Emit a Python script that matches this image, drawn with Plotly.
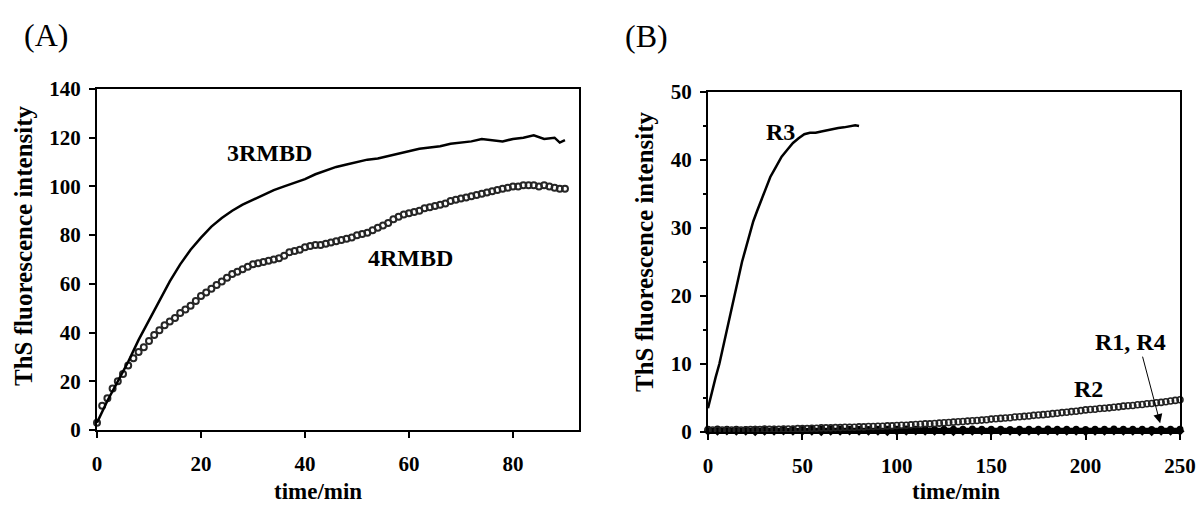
import plotly.graph_objects as go

# ---------------- Panel A data ----------------
t_3r = [0, 2, 4, 6, 8, 10, 12, 14, 16, 18, 20, 22, 24, 26, 28, 30, 32, 34, 36, 38,
        40, 42, 44, 46, 48, 50, 52, 54, 56, 58, 60, 62, 64, 66, 68, 70, 72, 74, 76, 78,
        80, 82, 84, 86, 88, 89, 90]
v_3r = [3, 12, 20, 28, 37, 45, 53, 61, 68, 74, 79, 83.5, 87, 90, 92.5, 94.5, 96.5, 98.5, 100, 101.5,
        103, 105, 106.5, 108, 109, 110, 111, 111.5, 112.5, 113.5, 114.5, 115.5, 116, 116.5, 117.5, 118, 118.5, 119.5, 119, 118.5,
        119.5, 120, 121, 119.5, 120, 118, 119]

t_4r = list(range(0, 91))
v_4r = [3, 10, 13, 17, 20, 23, 26.5, 29.5, 32, 34,
        36.5, 39, 41, 43, 44.5, 46, 48, 49.5, 51, 53,
        55, 56.5, 58, 59.5, 61, 62.5, 64, 65, 66, 67,
        68, 68.5, 69, 69.5, 70, 70.5, 71.5, 73, 73.5, 74,
        75, 75.5, 76, 76, 76.5, 77, 77.5, 78, 78.5, 79,
        80, 80.5, 81, 82, 83, 84, 85, 86.5, 87.5, 88.5,
        89, 89.5, 90, 91, 91.5, 92, 92.5, 93, 94, 94.5,
        95, 95.5, 96, 96.5, 97, 97.5, 98, 98.5, 99, 99.5,
        100, 100, 100.5, 100.5, 100.5, 100, 100.5, 100, 99.5, 99, 99]

# ---------------- Panel B data ----------------
t_r3 = [0, 2, 4, 6, 8, 10, 12, 14, 16, 18, 20, 22, 24, 26, 28, 30, 33, 36, 39, 42,
        45, 48, 51, 54, 57, 60, 63, 66, 69, 72, 75, 78, 80]
v_r3 = [3.5, 6, 8, 10, 12.5, 15, 17.5, 20, 22.5, 25, 27, 29, 31, 32.5, 34, 35.5, 37.5, 39, 40.5, 41.5,
        42.5, 43.2, 43.8, 44, 44, 44.2, 44.4, 44.5, 44.7, 44.8, 45, 45.1, 45]

t_r2 = [i * 2.5 for i in range(101)]
v_r2 = [0.3, 0.3, 0.3, 0.3, 0.3, 0.3, 0.3, 0.3, 0.3, 0.35, 0.35, 0.35, 0.4, 0.4, 0.4, 0.4, 0.45, 0.45, 0.45, 0.5, 0.5,
        0.5, 0.55, 0.55, 0.6, 0.6, 0.6, 0.65, 0.65, 0.7, 0.7, 0.7, 0.75, 0.75, 0.8, 0.8, 0.85, 0.85, 0.9, 0.9, 0.95,
        1.0, 1.0, 1.05, 1.1, 1.15, 1.2, 1.2, 1.25, 1.3, 1.35, 1.4, 1.45, 1.5, 1.55, 1.6, 1.65, 1.7, 1.75, 1.8, 1.9,
        1.95, 2.0, 2.05, 2.1, 2.2, 2.25, 2.3, 2.35, 2.45, 2.5, 2.55, 2.6, 2.7, 2.75, 2.85, 2.9, 3.0, 3.05, 3.15, 3.25,
        3.3, 3.35, 3.45, 3.5, 3.55, 3.65, 3.7, 3.8, 3.85, 3.9, 4.0, 4.05, 4.15, 4.2, 4.3, 4.35, 4.45, 4.55, 4.65, 4.75]

t_r14 = [i * 5 for i in range(51)]
v_r1 = [0.4, 0.45, 0.4, 0.4, 0.35, 0.4, 0.45, 0.4, 0.4, 0.4, 0.35, 0.4, 0.4, 0.45, 0.4, 0.4, 0.4, 0.35,
        0.4, 0.4, 0.4, 0.45, 0.4, 0.4, 0.35, 0.4, 0.4, 0.4, 0.45, 0.4, 0.4, 0.4, 0.35, 0.4, 0.4,
        0.4, 0.45, 0.4, 0.4, 0.4, 0.35, 0.4, 0.4, 0.45, 0.4, 0.4, 0.4, 0.35, 0.4, 0.4, 0.4]
v_r4 = [0.1, 0.1, 0.15, 0.1, 0.1, 0.05, 0.1, 0.1, 0.15, 0.1, 0.1, 0.1, 0.05, 0.1, 0.1, 0.15, 0.1, 0.1,
        0.1, 0.05, 0.1, 0.1, 0.15, 0.1, 0.1, 0.1, 0.05, 0.1, 0.1, 0.15, 0.1, 0.1, 0.1, 0.05, 0.1,
        0.1, 0.15, 0.1, 0.1, 0.1, 0.05, 0.1, 0.1, 0.15, 0.1, 0.1, 0.1, 0.05, 0.1, 0.1, 0.1]

W, H = 1201, 506
SERIF = "Liberation Serif"


def px(x):
    return x / W


def py(y):
    return 1 - y / H


fig = go.Figure()

# Panel A
fig.add_trace(go.Scatter(x=t_4r, y=v_4r, mode="markers", xaxis="x", yaxis="y",
                         marker=dict(symbol="circle-open", size=6, color="#262626", line=dict(width=2)),
                         cliponaxis=False, showlegend=False, name="4RMBD"))
fig.add_trace(go.Scatter(x=t_3r, y=v_3r, mode="lines", xaxis="x", yaxis="y",
                         line=dict(color="black", width=2.5), cliponaxis=False, showlegend=False, name="3RMBD"))

# Panel B
fig.add_trace(go.Scatter(x=t_r14, y=v_r4, mode="lines+markers", xaxis="x2", yaxis="y2",
                         line=dict(color="black", width=3), marker=dict(symbol="diamond", size=7, color="black"),
                         cliponaxis=False, showlegend=False, name="R4"))
fig.add_trace(go.Scatter(x=t_r14, y=v_r1, mode="lines+markers", xaxis="x2", yaxis="y2",
                         line=dict(color="black", width=3), marker=dict(symbol="circle", size=7, color="black"),
                         cliponaxis=False, showlegend=False, name="R1"))
fig.add_trace(go.Scatter(x=t_r2, y=v_r2, mode="markers", xaxis="x2", yaxis="y2",
                         marker=dict(symbol="circle-open", size=6, color="#222222", line=dict(width=1.6)),
                         cliponaxis=False, showlegend=False, name="R2"))
fig.add_trace(go.Scatter(x=t_r3, y=v_r3, mode="lines", xaxis="x2", yaxis="y2",
                         line=dict(color="black", width=2.5), cliponaxis=False, showlegend=False, name="R3"))

tickfont = dict(family=SERIF, size=21, color="black", weight="bold")
axis_common = dict(showline=True, linecolor="black", linewidth=2, mirror=True, ticks="outside",
                   ticklen=6, tickwidth=2, tickcolor="black", showgrid=False, zeroline=False,
                   tickfont=tickfont, automargin=False)

fig.update_layout(
    width=W, height=H,
    margin=dict(l=0, r=0, t=0, b=0),
    paper_bgcolor="white", plot_bgcolor="white",
    xaxis=dict(domain=[px(97), px(579)], range=[0, 92.7], tickvals=[0, 20, 40, 60, 80], anchor="y",
               ticklabelstandoff=8, **axis_common),
    yaxis=dict(domain=[py(430), py(89)], range=[0, 140], tickvals=[0, 20, 40, 60, 80, 100, 120, 140], anchor="x",
               ticklabelstandoff=4, **axis_common),
    xaxis2=dict(domain=[px(708), px(1180)], range=[0, 250], tickvals=[0, 50, 100, 150, 200, 250], anchor="y2",
                ticklabelstandoff=8, **axis_common),
    yaxis2=dict(domain=[py(432), py(92)], range=[0, 50], tickvals=[0, 10, 20, 30, 40, 50], anchor="x2",
                ticklabelstandoff=4,
                minor=dict(ticks="outside", ticklen=3, tickwidth=2, tickcolor="black", dtick=5, tick0=0),
                **axis_common),
)

ann = []


def label(text, x, y, size=23, bold=True, angle=0):
    ann.append(dict(text=text, x=px(x), y=py(y), xref="paper", yref="paper", showarrow=False,
                    xanchor="center", yanchor="middle", textangle=angle,
                    font=dict(family=SERIF, size=size, color="black", weight="bold" if bold else "normal")))


label("(A)", 46, 35, size=32, bold=False)
label("(B)", 646, 36, size=32, bold=False)
label("ThS fluorescence intensity", 23, 246, size=25, angle=-90)
label("ThS fluorescence intensity", 644, 251, size=25, angle=-90)
label("time/min", 318, 491, size=23)
label("time/min", 956, 491, size=23)
label("3RMBD", 269, 153, size=24)
label("4RMBD", 410, 258, size=24)
label("R3", 780, 132, size=24)
label("R2", 1088, 389, size=24)
label("R1, R4", 1130, 342, size=24)

ann.append(dict(text="", x=239.5, y=1.3, xref="x2", yref="y2", showarrow=True,
                ax=-18, ay=-68, axref="pixel", ayref="pixel", arrowhead=2, arrowsize=1.8, arrowwidth=1,
                arrowcolor="black"))

fig.update_layout(annotations=ann)

fig.write_html("out.html", config={"displayModeBar": False, "staticPlot": True},
               post_script="document.body.style.margin='0';document.body.style.padding='0';")
